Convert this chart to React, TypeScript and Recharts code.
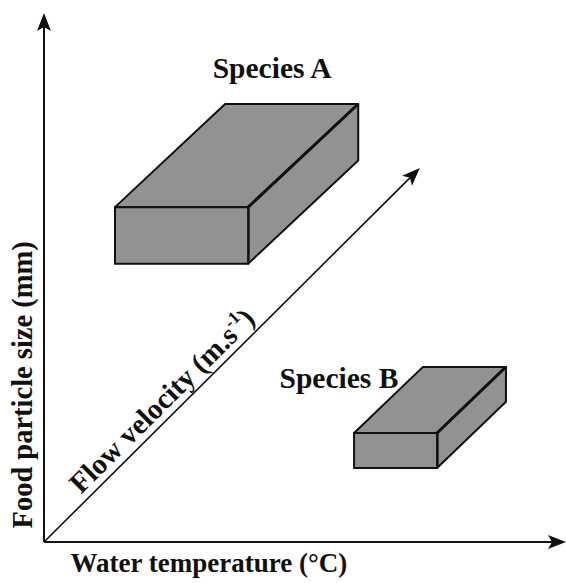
import { ComposedChart, XAxis, YAxis, ReferenceArea, ReferenceLine, ReferenceDot } from 'recharts';

// conceptual space: every axis runs 0..100, no ticks
const speciesNames = ['Species A', 'Species B'];
const frontX = [[13.6, 39.1], [59.4, 75.3]];
const frontY = [[52.6, 63.3], [14.0, 20.6]];
const boxDepth = [[21.1, 19.5], [13.2, 12.5]];
const speciesLabelAt = [[43.7, 87.7], [56.5, 29.1]];

const arrowNames = ['temperature', 'particle', 'flow'];
const arrowTips = [[100, 0], [0, 100], [72.0, 70.7]];

const axisTitles = ['Water temperature (°C)', 'Food particle size (mm)', 'Flow velocity (m.s'];
const axisTitleAt = [[31.6, -5.7], [-2.3, 29.7], [23.9, 25.4]];
const axisTitleAngle = [0, -90, -44.8];
const axisTitleSize = [27, 28.5, 29];

const W = 566;
const H = 583;
const FONT = '"Liberation Serif", "Times New Roman", serif';
const FILL = '#929292';
const INK = '#111';

const ArrowShape = (p: any) => {
  const { x1, y1, x2, y2 } = p;
  const len = Math.hypot(x2 - x1, y2 - y1) || 1;
  const ux = (x2 - x1) / len;
  const uy = (y2 - y1) / len;
  const nx = -uy;
  const ny = ux;
  const L = 18, half = 7, notch = 4;
  const bx = x2 - ux * L, by = y2 - uy * L;
  const mx = x2 - ux * (L - notch), my = y2 - uy * (L - notch);
  return (
    <g>
      <line x1={x1} y1={y1} x2={mx} y2={my} stroke={INK} strokeWidth={p.strokeWidth || 2} />
      <polygon
        points={`${x2},${y2} ${bx + nx * half},${by + ny * half} ${mx},${my} ${bx - nx * half},${by - ny * half}`}
        fill={INK}
      />
    </g>
  );
};

const topFace = (slantFrac: number) => (p: any) => {
  const { x, y, width: w, height: h } = p;
  const s = w * slantFrac;
  return (
    <polygon
      points={`${x},${y + h} ${x + s},${y} ${x + w},${y} ${x + w - s},${y + h}`}
      fill={FILL}
      stroke={INK}
      strokeWidth={2}
      strokeLinejoin="round"
    />
  );
};

const rightFace = (riseFrac: number) => (p: any) => {
  const { x, y, width: w, height: h } = p;
  const r = h * riseFrac;
  return (
    <g>
      <polygon
        points={`${x},${y + r} ${x + w},${y} ${x + w},${y + h - r} ${x},${y + h}`}
        fill={FILL}
        stroke={INK}
        strokeWidth={2}
        strokeLinejoin="round"
      />
      <polyline
        points={`${x + w},${y} ${x},${y + r} ${x},${y + h}`}
        fill="none"
        stroke={INK}
        strokeWidth={3}
        strokeLinejoin="round"
      />
    </g>
  );
};

const textShape = (text: string, angle: number, size: number, sup?: string) => (p: any) => (
  <text
    x={p.cx}
    y={p.cy}
    textAnchor="middle"
    fontFamily={FONT}
    fontWeight="bold"
    fontSize={size}
    fill={INK}
    transform={angle ? `rotate(${angle} ${p.cx} ${p.cy})` : undefined}
  >
    {text}
    {sup ? (
      <>
        <tspan fontSize={size * 0.6} dy={-size * 0.42}>{sup}</tspan>
        <tspan dy={size * 0.42}>)</tspan>
      </>
    ) : null}
  </text>
);

export default function App() {
  return (
    <div style={{ position: 'absolute', left: 0, top: 0, width: W, height: H, background: '#fff' }}>
      <ComposedChart width={W} height={H} margin={{ top: 13, right: 0, bottom: 41, left: 44 }}>
        <XAxis type="number" dataKey="x" domain={[0, 100]} hide allowDataOverflow />
        <YAxis type="number" dataKey="y" domain={[0, 100]} hide allowDataOverflow />

        {speciesNames.map((name, i) => {
          const [fx1, fx2] = frontX[i];
          const [fy1, fy2] = frontY[i];
          const [dx, dy] = boxDepth[i];
          return [
            <ReferenceArea
              key={name + '-top'}
              x1={fx1}
              x2={fx2 + dx}
              y1={fy2}
              y2={fy2 + dy}
              ifOverflow="visible"
              shape={topFace(dx / (fx2 + dx - fx1))}
            />,
            <ReferenceArea
              key={name + '-right'}
              x1={fx2}
              x2={fx2 + dx}
              y1={fy1}
              y2={fy2 + dy}
              ifOverflow="visible"
              shape={rightFace(dy / (fy2 + dy - fy1))}
            />,
            <ReferenceArea
              key={name + '-front'}
              x1={fx1}
              x2={fx2}
              y1={fy1}
              y2={fy2}
              ifOverflow="visible"
              fill={FILL}
              fillOpacity={1}
              stroke={INK}
              strokeWidth={2}
            />,
          ];
        })}

        {arrowNames.map((name, i) => (
          <ReferenceLine
            key={name}
            segment={[{ x: 0, y: 0 }, { x: arrowTips[i][0], y: arrowTips[i][1] }]}
            ifOverflow="visible"
            stroke={INK}
            strokeWidth={name === 'flow' ? 1.6 : 2}
            shape={ArrowShape}
          />
        ))}

        {speciesNames.map((name, i) => (
          <ReferenceDot
            key={name + '-label'}
            x={speciesLabelAt[i][0]}
            y={speciesLabelAt[i][1]}
            r={0}
            ifOverflow="visible"
            shape={textShape(name, 0, 29.5)}
          />
        ))}

        {axisTitles.map((t, i) => (
          <ReferenceDot
            key={t}
            x={axisTitleAt[i][0]}
            y={axisTitleAt[i][1]}
            r={0}
            ifOverflow="visible"
            shape={textShape(t, axisTitleAngle[i], axisTitleSize[i], i === 2 ? '-1' : undefined)}
          />
        ))}
      </ComposedChart>
    </div>
  );
}
